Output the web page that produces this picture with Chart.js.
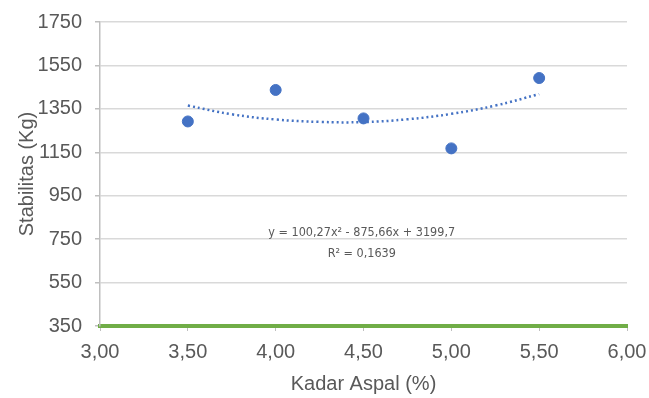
<!DOCTYPE html>
<html>
<head>
<meta charset="utf-8">
<script src="https://cdn.jsdelivr.net/npm/chart.js@4"></script>
<style>
  html, body { margin: 0; padding: 0; background: #fff; }
  #wrap { width: 649px; height: 398px; }
</style>
</head>
<body>
<div id="wrap"><canvas id="out" width="649" height="398"></canvas></div>
<script>
// measured points
const kadarAspal = [3.5, 4.0, 4.5, 5.0, 5.5];
const stabilitas = [1292, 1437, 1306, 1168, 1492];

// trendline
const trendX = [3.5, 3.75, 4.0, 4.25, 4.5, 4.75, 5.0, 5.25, 5.5];
const trendY = [1365, 1325, 1301, 1290, 1289, 1302, 1327, 1365, 1418];

const equationText = "y = 100,27x\u00b2 - 875,66x + 3199,7";
const rSquaredText = "R\u00b2 = 0,1639";

const gray = "#595959";
const blue = "#4472C4";
const axisFont = { family: "'Liberation Sans', Arial, sans-serif", size: 20 };

const pointsData = kadarAspal.map((x, i) => ({x: x, y: stabilitas[i]}));
const trendData = trendX.map((x, i) => ({x: x, y: trendY[i]}));

const equationPlugin = {
  id: "equation",
  afterDatasetsDraw(chart) {
    const ctx = chart.ctx;
    const xs = chart.scales.x, ys = chart.scales.y;
    const cx = xs.getPixelForValue(4.49);
    ctx.save();
    ctx.fillStyle = gray;
    ctx.font = "12.5px 'Liberation Sans Narrow', 'DejaVu Sans Condensed', sans-serif";
    ctx.textAlign = "center";
    ctx.textBaseline = "middle";
    ctx.fillText(equationText, cx, ys.getPixelForValue(778));
    ctx.fillText(rSquaredText, cx, ys.getPixelForValue(681));
    ctx.restore();
  }
};

const canvasCtx = document.getElementById("out").getContext("2d");
new Chart(canvasCtx, {
  type: "scatter",
  data: {
    datasets: [
      {
        data: pointsData,
        backgroundColor: blue,
        borderColor: blue,
        pointRadius: 5.5,
        pointHoverRadius: 5.5
      },
      {
        type: "line",
        data: trendData,
        borderColor: blue,
        borderWidth: 2.5,
        borderDash: [2, 3],
        pointRadius: 0,
        tension: 0.4,
        fill: false
      }
    ]
  },
  options: {
    responsive: false,
    animation: false,
    layout: { padding: { top: 22, right: 22, left: 4, bottom: 0 } },
    plugins: {
      legend: { display: false },
      tooltip: { enabled: false }
    },
    scales: {
      x: {
        type: "linear",
        min: 3,
        max: 6,
        afterFit: s => { s.height = 72; s.paddingLeft = 0; s.paddingRight = 0; },
        ticks: {
          stepSize: 0.5,
          color: gray,
          font: axisFont,
          padding: 9,
          maxRotation: 0,
          callback: v => v.toFixed(2).replace(".", ",")
        },
        grid: { drawOnChartArea: false, drawTicks: true, tickLength: 5, color: "#bfbfbf" },
        border: { color: "#70AD47", width: 4 },
        title: {
          display: true,
          text: "Kadar Aspal (%)",
          color: gray,
          font: axisFont,
          padding: { top: 0, bottom: 2 }
        }
      },
      y: {
        min: 350,
        max: 1750,
        afterFit: s => { s.width = 96; s.paddingTop = 0; s.paddingBottom = 0; },
        ticks: {
          stepSize: 200,
          color: gray,
          font: axisFont,
          padding: 13,
          callback: v => String(v)
        },
        grid: { color: "#d9d9d9", lineWidth: 1.5, tickLength: 5, tickColor: "#bfbfbf" },
        border: { color: "#bfbfbf", width: 1.5 },
        title: {
          display: true,
          text: "Stabilitas (Kg)",
          color: gray,
          font: axisFont,
          padding: { top: 11, bottom: 0 }
        }
      }
    }
  },
  plugins: [equationPlugin]
});
</script>
</body>
</html>
